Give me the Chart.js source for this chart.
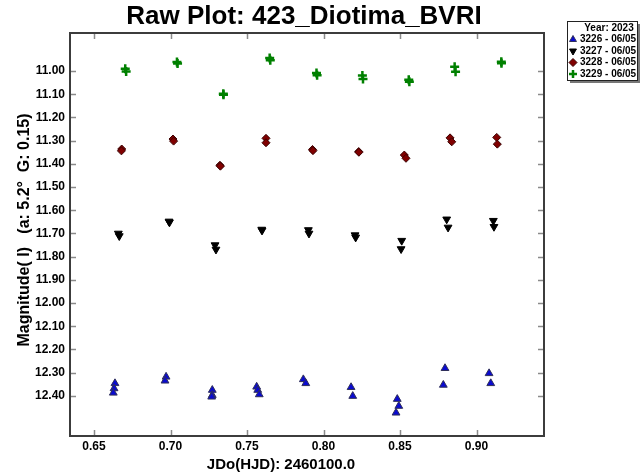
<!DOCTYPE html>
<html>
<head>
<meta charset="utf-8">
<title>Raw Plot: 423_Diotima_BVRI</title>
<script src="https://cdn.jsdelivr.net/npm/chart.js@4/dist/chart.umd.min.js"></script>
<style>
  html, body { margin: 0; padding: 0; background: #ffffff; }
  #wrap { width: 644px; height: 476px; position: relative; }
</style>
</head>
<body>
<div id="wrap"><canvas id="c" width="644" height="476"></canvas></div>
<script>
// Session labels and tick values
const sessionNames = ['3226 - 06/05', '3227 - 06/05', '3228 - 06/05', '3229 - 06/05'];
const xTicks = [0.65, 0.70, 0.75, 0.80, 0.85, 0.90];
const yTicks = [11.0, 11.1, 11.2, 11.3, 11.4, 11.5, 11.6, 11.7, 11.8, 11.9, 12.0, 12.1, 12.2, 12.3, 12.4];

// Session 3226: JD offset and magnitude
const jd3226 = [0.6637, 0.6631, 0.6626, 0.6971, 0.6964, 0.7273, 0.7273, 0.7269, 0.7563, 0.7570, 0.7580,
                0.7868, 0.7884, 0.8180, 0.8191, 0.8482, 0.8492, 0.8474, 0.8794, 0.8783, 0.9082, 0.9093];
const mag3226 = [12.346, 12.368, 12.387, 12.318, 12.335, 12.375, 12.397, 12.404, 12.361, 12.375, 12.394,
                 12.329, 12.346, 12.363, 12.401, 12.414, 12.444, 12.473, 12.281, 12.353, 12.303, 12.346];

// Session 3227
const jd3227 = [0.6659, 0.6665, 0.6990, 0.6993, 0.7291, 0.7297, 0.7596, 0.7598, 0.7901, 0.7905,
                0.8206, 0.8210, 0.8511, 0.8507, 0.8805, 0.8814, 0.9110, 0.9114];
const mag3227 = [11.700, 11.711, 11.648, 11.652, 11.750, 11.769, 11.683, 11.687, 11.685, 11.700,
                 11.707, 11.717, 11.731, 11.767, 11.639, 11.674, 11.645, 11.671];

// Session 3228
const jd3228 = [0.6681, 0.6679, 0.7016, 0.7020, 0.7323, 0.7326, 0.7624, 0.7624, 0.7928, 0.7931,
                0.8230, 0.8231, 0.8528, 0.8539, 0.8827, 0.8838, 0.9132, 0.9136];
const mag3228 = [11.336, 11.344, 11.293, 11.302, 11.406, 11.410, 11.290, 11.309, 11.338, 11.343,
                 11.347, 11.350, 11.362, 11.376, 11.288, 11.305, 11.286, 11.315];

// Session 3229
const jd3229 = [0.6704, 0.6710, 0.7042, 0.7046, 0.7345, 0.7346, 0.7648, 0.7652, 0.7954, 0.7958,
                0.8254, 0.8258, 0.8557, 0.8561, 0.8857, 0.8863, 0.9162, 0.9163];
const mag3229 = [10.990, 11.002, 10.961, 10.967, 11.098, 11.102, 10.944, 10.953, 11.008, 11.018,
                 11.019, 11.034, 11.038, 11.046, 10.981, 11.003, 10.960, 10.966];

const FONT = "'Liberation Sans', Arial, sans-serif";

function pts(xs, ys) { return xs.map((x, i) => ({ x: x, y: ys[i] })); }

const styles = [
  { pointStyle: 'triangle', radius: 4.5, rotation: 0,   bg: '#0a0ad0', border: '#30305a', bw: 1 },
  { pointStyle: 'triangle', radius: 4.5, rotation: 180, bg: '#000000', border: '#000000', bw: 1 },
  { pointStyle: 'rectRot',  radius: 4,   rotation: 0,   bg: '#800000', border: '#3a0000', bw: 1 },
  { pointStyle: 'cross',    radius: 4.5, rotation: 0,   bg: '#008000', border: '#008000', bw: 2.5 }
];
const seriesData = [pts(jd3226, mag3226), pts(jd3227, mag3227), pts(jd3228, mag3228), pts(jd3229, mag3229)];

const datasets = seriesData.map((d, i) => ({
  label: sessionNames[i],
  data: d,
  pointStyle: styles[i].pointStyle,
  pointRadius: styles[i].radius,
  pointRotation: styles[i].rotation,
  pointBackgroundColor: styles[i].bg,
  pointBorderColor: styles[i].border,
  pointBorderWidth: styles[i].bw,
  showLine: false
}));

// Frame, inward ticks, titles and the legend box
const decor = {
  id: 'decor',
  afterDraw(chart) {
    const ctx = chart.ctx;
    const a = chart.chartArea;
    const xs = chart.scales.x, ys = chart.scales.y;
    ctx.save();

    // inward tick marks on all four sides
    ctx.strokeStyle = '#8a8a8a';
    ctx.lineWidth = 1.5;
    const tl = 6;
    ctx.beginPath();
    xTicks.forEach(v => {
      const px = Math.round(xs.getPixelForValue(v)) + 0.5;
      ctx.moveTo(px, a.bottom); ctx.lineTo(px, a.bottom - tl);
      ctx.moveTo(px, a.top); ctx.lineTo(px, a.top + tl);
    });
    yTicks.forEach(v => {
      const py = Math.round(ys.getPixelForValue(v)) + 0.5;
      ctx.moveTo(a.left, py); ctx.lineTo(a.left + tl, py);
      ctx.moveTo(a.right, py); ctx.lineTo(a.right - tl, py);
    });
    ctx.stroke();

    // frame
    ctx.strokeStyle = '#3c3c3c';
    ctx.lineWidth = 2;
    ctx.strokeRect(a.left, a.top, a.right - a.left, a.bottom - a.top);

    // main title
    ctx.fillStyle = '#000';
    ctx.textAlign = 'center';
    ctx.textBaseline = 'middle';
    ctx.font = 'bold 26px ' + FONT;
    ctx.fillText('Raw Plot: 423_Diotima_BVRI', 304, 17);

    // x axis title
    ctx.font = 'bold 15px ' + FONT;
    ctx.fillText('JDo(HJD): 2460100.0', 281, 465);

    // y axis title
    ctx.save();
    ctx.translate(25, 230);
    ctx.rotate(-Math.PI / 2);
    ctx.font = 'bold 16px ' + FONT;
    ctx.fillText('Magnitude( I)   (a: 5.2\u00b0  G: 0.15)', 0, 0);
    ctx.restore();

    // legend box with drop shadow
    const bx = 567, by = 21, bw = 70, bh = 59;
    ctx.fillStyle = '#777';
    ctx.fillRect(bx + 3, by + 3, bw, bh);
    ctx.fillStyle = '#fff';
    ctx.fillRect(bx, by, bw, bh);
    ctx.strokeStyle = '#222';
    ctx.lineWidth = 1;
    ctx.strokeRect(bx + 0.5, by + 0.5, bw, bh);

    ctx.fillStyle = '#000';
    ctx.font = 'bold 10px ' + FONT;
    ctx.textAlign = 'center';
    ctx.fillText('Year: 2023', 609, 28);
    ctx.textAlign = 'left';
    const rowY = [39.5, 51, 62.5, 74];
    sessionNames.forEach((name, i) => {
      const s = styles[i];
      ctx.fillStyle = s.bg;
      ctx.strokeStyle = s.border;
      ctx.lineWidth = s.bw;
      Chart.helpers.drawPoint(ctx, {
        pointStyle: s.pointStyle,
        radius: 4,
        rotation: s.rotation,
        borderWidth: s.bw
      }, 573, rowY[i]);
      ctx.fillStyle = '#000';
      ctx.fillText(name, 580, rowY[i]);
    });

    ctx.restore();
  }
};

new Chart(document.getElementById('c'), {
  type: 'scatter',
  data: { datasets: datasets },
  options: {
    responsive: false,
    animation: false,
    devicePixelRatio: 1,
    layout: { padding: { top: 33, right: 100, left: 0, bottom: 0 } },
    plugins: {
      legend: { display: false },
      title: { display: false },
      tooltip: { enabled: false }
    },
    scales: {
      x: {
        type: 'linear',
        min: 0.6343,
        max: 0.9441,
        grid: { display: false, drawTicks: false },
        border: { display: false },
        afterBuildTicks: s => { s.ticks = xTicks.map(v => ({ value: v })); },
        afterFit: s => { s.height = 40; },
        ticks: {
          autoSkip: false,
          maxRotation: 0,
          padding: 3,
          color: '#000',
          font: { family: FONT, size: 12, weight: 'bold' },
          callback: v => Number(v).toFixed(2)
        }
      },
      y: {
        type: 'linear',
        reverse: true,
        min: 10.836,
        max: 12.573,
        grid: { display: false, drawTicks: false },
        border: { display: false },
        afterBuildTicks: s => { s.ticks = yTicks.map(v => ({ value: v })); },
        afterFit: s => { s.width = 70; },
        ticks: {
          autoSkip: false,
          padding: 5,
          color: '#000',
          font: { family: FONT, size: 12, weight: 'bold' },
          callback: v => Number(v).toFixed(2)
        }
      }
    }
  },
  plugins: [decor]
});
</script>
</body>
</html>
